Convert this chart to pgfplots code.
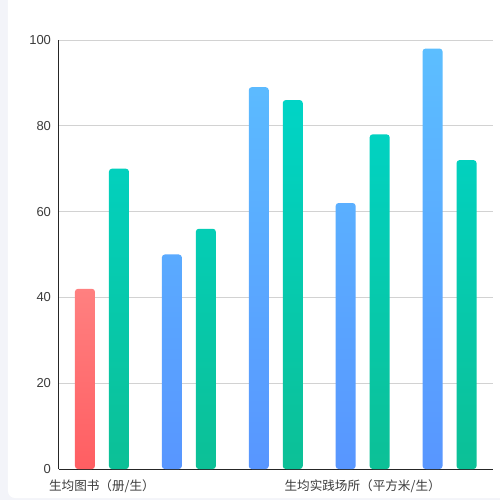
\documentclass[border=0pt]{standalone}
\usepackage{pgfplots}
\pgfplotsset{compat=1.18}
\usepackage{fontspec}
\setmainfont{Noto Sans CJK SC}
\newfontfamily\numfont{Liberation Sans}
\definecolor{bgc}{RGB}{243,244,249}
\definecolor{gridc}{RGB}{210,210,210}
\definecolor{txt}{RGB}{60,60,60}
\definecolor{redT}{RGB}{255,128,128}
\definecolor{redB}{RGB}{255,94,98}
\definecolor{blueT}{RGB}{92,190,255}
\definecolor{blueB}{RGB}{88,150,255}
\definecolor{greenT}{RGB}{0,212,198}
\definecolor{greenB}{RGB}{12,192,150}
\begin{document}
\begin{tikzpicture}[x=1bp,y=1bp]
\useasboundingbox (-58.5,-31) rectangle (441.5,469);
\fill[bgc] (-58.5,-31) rectangle (441.5,469);
\fill[white, rounded corners=7] (-50.5,-29) rectangle (460,480);
\begin{axis}[
  at={(0,0)}, anchor=south west,
  scale only axis, width=434.5bp, height=429bp,
  ybar, bar width=20bp,
  xmin=-0.5, xmax=4.5, ymin=0, ymax=100,
  ytick={0,20,40,60,80,100},
  xtick={0,3},
  xticklabels={生均图书（册/生）,生均实践场所（平方米/生）},
  major tick length=0pt,
  axis x line*=bottom, axis y line*=left,
  axis line style={draw=black!85, line width=0.8pt, -},
  ymajorgrids, grid style={draw=gridc, line width=0.6pt},
  /pgf/number format/assume math mode=true,
  yticklabel style={font=\numfont\fontsize{13bp}{15bp}\selectfont, text=txt, xshift=-4bp},
  xticklabel style={font=\fontsize{12.6bp}{14bp}\selectfont, text=txt, yshift=-7bp},
  clip=false,
]
\addplot[draw=none, bar shift=-17bp, top color=redT, bottom color=redB, rounded corners=3bp] coordinates {(0,42)};
\addplot[draw=none, bar shift=-17bp, top color=blueT, bottom color=blueB, rounded corners=3bp] coordinates {(1,50) (2,89) (3,62) (4,98)};
\addplot[draw=none, bar shift=17bp, top color=greenT, bottom color=greenB, rounded corners=3bp] coordinates {(0,70) (1,56) (2,86) (3,78) (4,72)};
\end{axis}
\end{tikzpicture}
\end{document}
